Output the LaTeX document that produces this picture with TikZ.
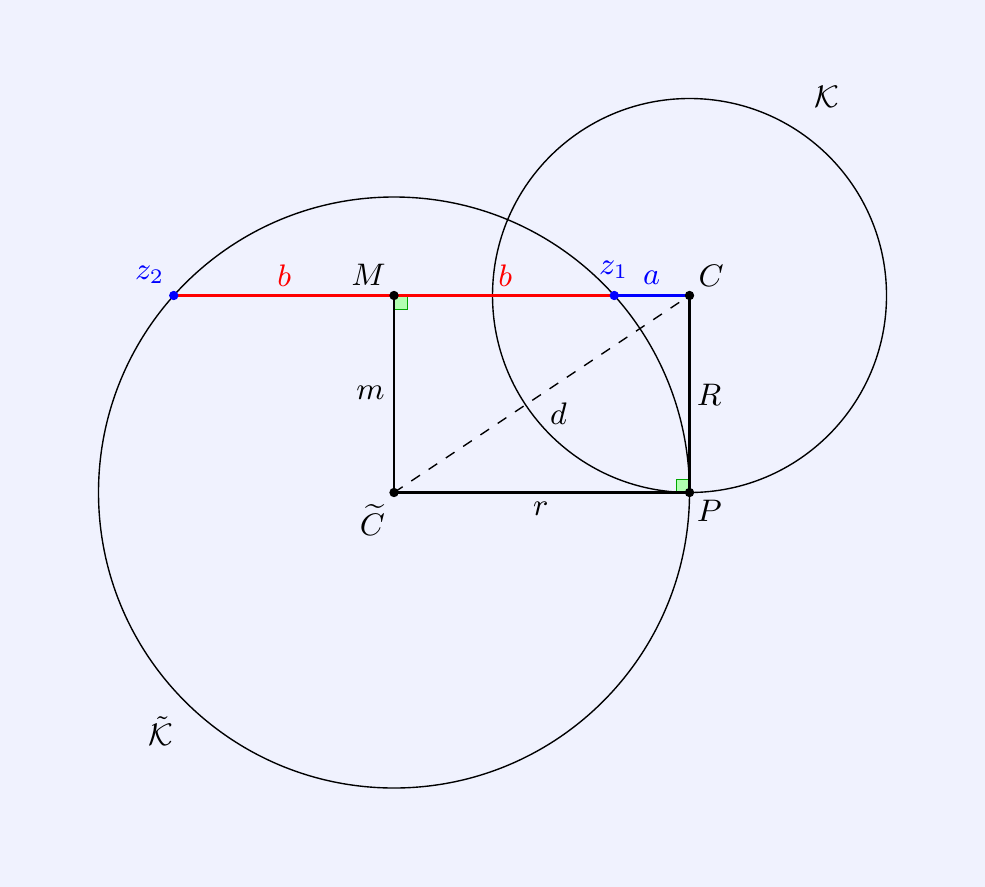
\documentclass[tikz,border=0pt]{standalone}
\usetikzlibrary{calc}
\definecolor{bgcol}{RGB}{240,242,254}
\begin{document}
\begin{tikzpicture}[x=1cm,y=1cm,font=\small,
  seg/.style={thick,line cap=round},
  dot/.style={circle,fill=black,inner sep=0pt,minimum size=0.95mm},
  bdot/.style={circle,fill=blue,inner sep=0pt,minimum size=0.95mm},
  ramark/.style={draw=green!65!black,fill=green!30,line width=0.4pt},
  lbl/.style={inner sep=1pt}]
\fill[bgcol] (0,0) rectangle (10,9);
\useasboundingbox (0,0) rectangle (10,9);
% points
\coordinate (Ct) at (4,4);
\coordinate (C) at (7,6);
\coordinate (P) at (7,4);
\coordinate (M) at (4,6);
\coordinate (z1) at ({4+sqrt(5)},6);
\coordinate (z2) at ({4-sqrt(5)},6);
% circles
\draw[line width=0.4pt] (Ct) circle (3);
\draw[line width=0.4pt] (C) circle (2);
% dashed
\draw[dashed,line width=0.4pt] (Ct) -- (C);
% right angle marks
\draw[ramark] (M) rectangle ++(0.14,-0.14);
\draw[ramark] (P) rectangle ++(-0.13,0.13);
% segments
\draw[seg] (M) -- (Ct);
\draw[seg] (Ct) -- (P);
\draw[seg] (C) -- (P);
\draw[seg,red] (z2) -- (z1);
\draw[seg,blue] (z1) -- (C);
% dots
\node[dot] (nM) at (M) {};
\node[dot] (nC) at (C) {};
\node[dot] (nCt) at (Ct) {};
\node[dot] (nP) at (P) {};
\node[bdot] (nz1) at (z1) {};
\node[bdot] (nz2) at (z2) {};
% labels
\node[lbl] (lK) at (8.39,8.02) {$\mathcal{K}$};
\node[lbl] (lKt) at (1.63,1.58) {$\tilde{\mathcal{K}}$};
\node[lbl,blue] (lz2) at (1.52,6.21) {$z_2$};
\node[lbl,blue] (lz1) at (6.23,6.26) {$z_1$};
\node[lbl,red] (lb1) at (2.886,6.2) {$b$};
\node[lbl,red] (lb2) at (5.13,6.2) {$b$};
\node[lbl,blue] (la) at (6.616,6.18) {$a$};
\node[lbl] (lM) at (3.74,6.21) {$M$};
\node[lbl] (lC) at (7.22,6.2) {$C$};
\node[lbl] (lR) at (7.2,4.99) {$R$};
\node[lbl] (lm) at (3.76,5.01) {$m$};
\node[lbl] (lr) at (5.49,3.83) {$r$};
\node[lbl] (ld) at (5.67,4.8) {$d$};
\node[lbl] (lCt) at (3.78,3.72) {$\widetilde{C}$};
\node[lbl] (lP) at (7.2,3.81) {$P$};
\end{tikzpicture}
\end{document}
